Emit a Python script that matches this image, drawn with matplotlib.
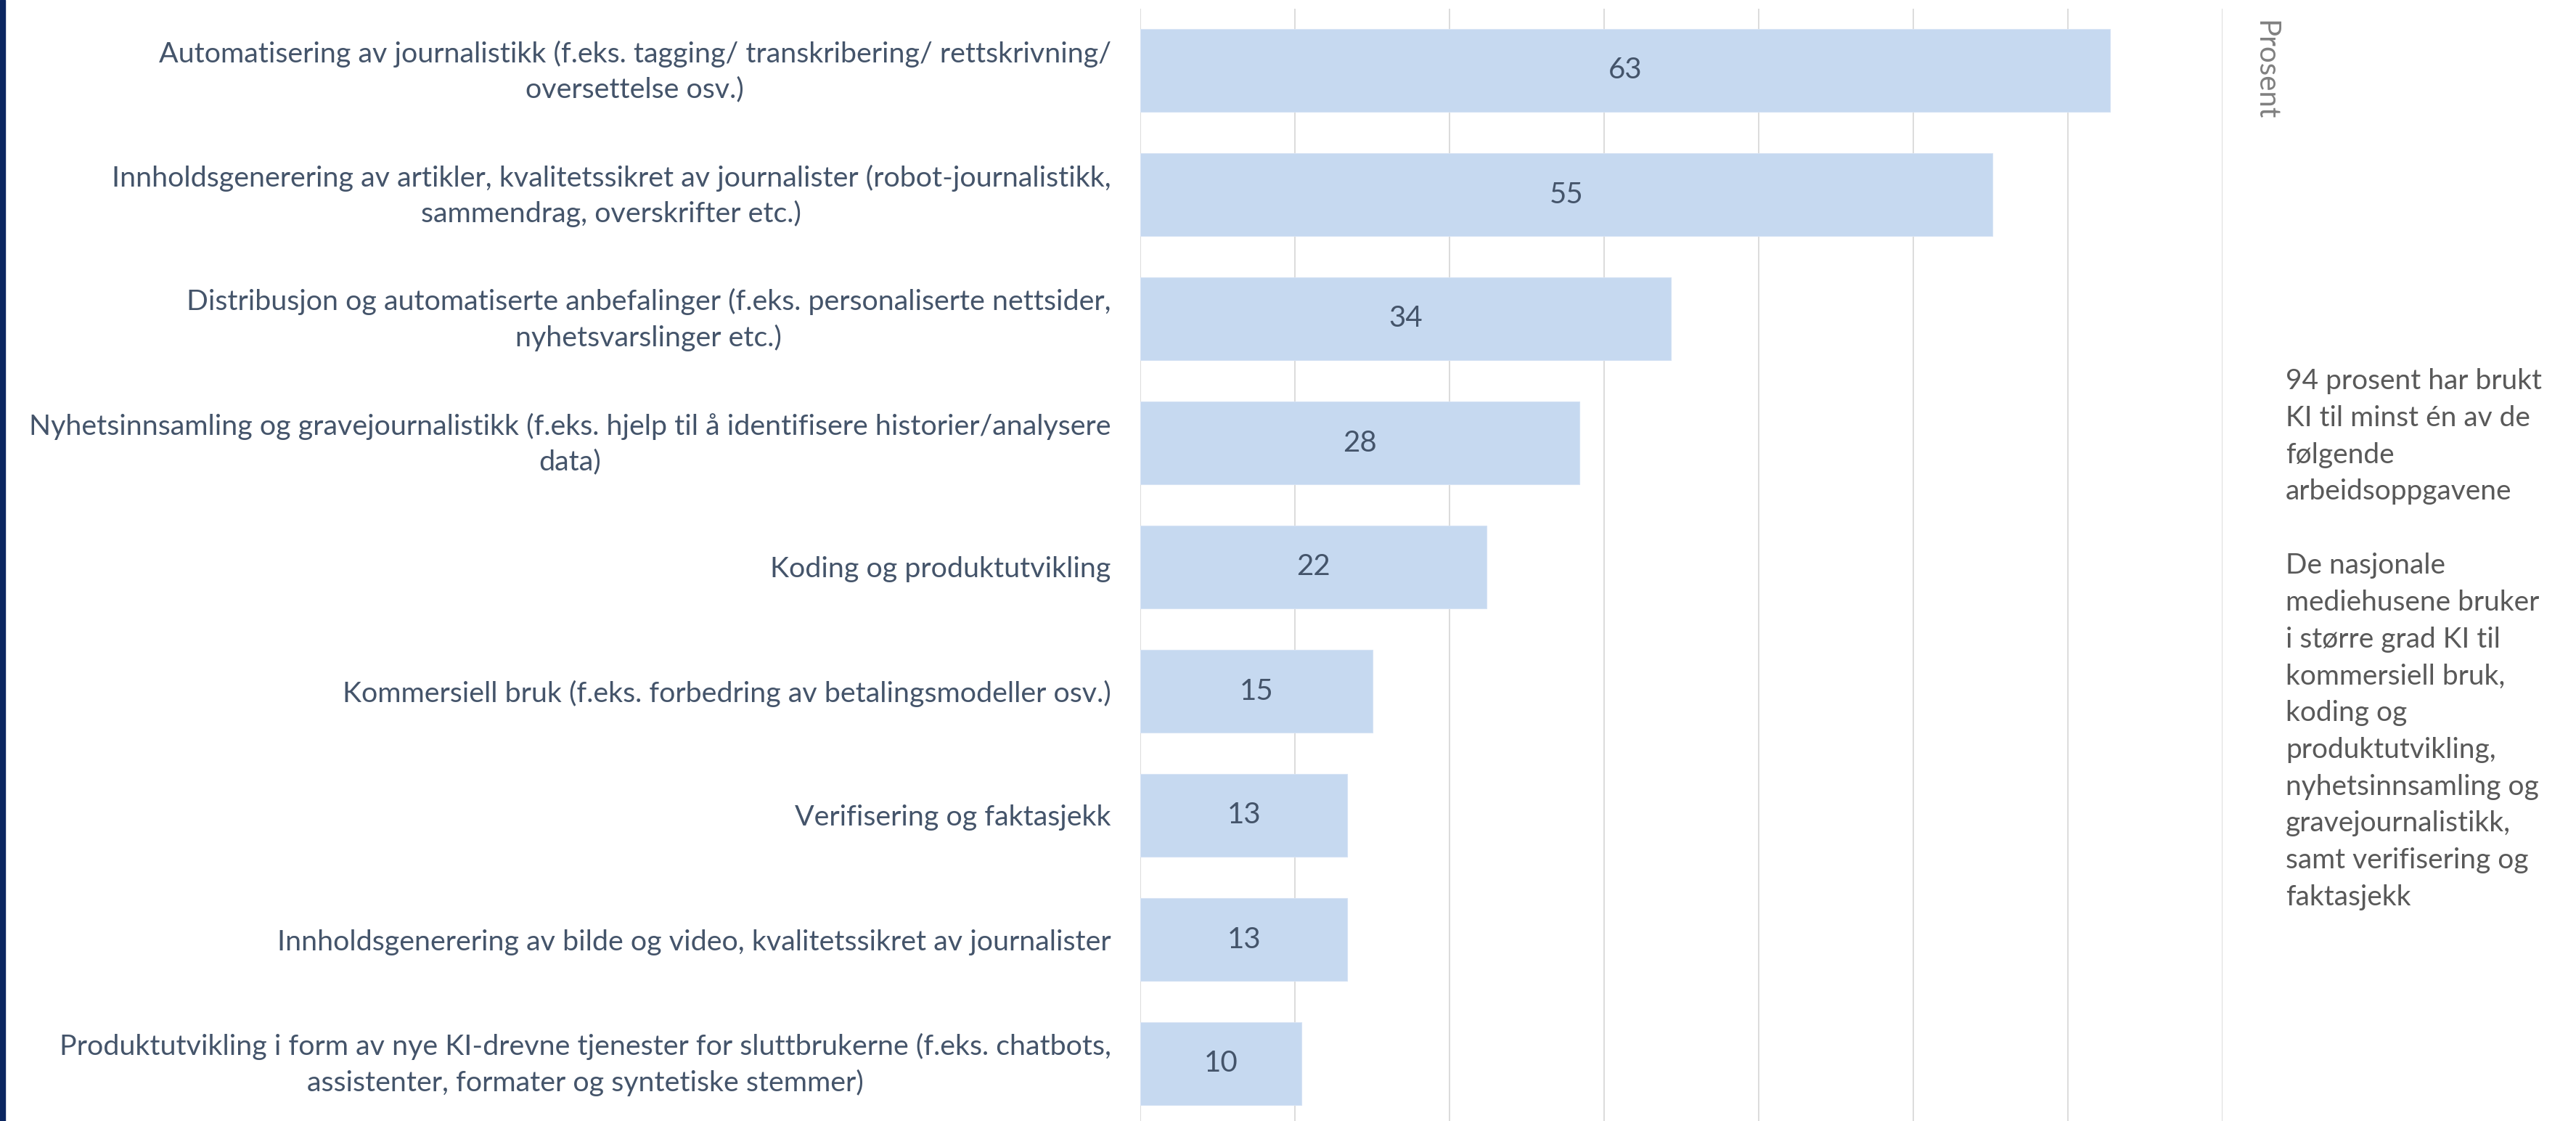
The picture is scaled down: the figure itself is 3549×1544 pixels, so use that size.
import matplotlib
matplotlib.use("Agg")
import matplotlib.pyplot as plt
import matplotlib.transforms as mtransforms
import numpy as np

categories = [
    "Automatisering av journalistikk (f.eks. tagging/ transkribering/ rettskrivning/\noversettelse osv.)",
    "Innholdsgenerering av artikler, kvalitetssikret av journalister (robot-journalistikk,\nsammendrag, overskrifter etc.)",
    "Distribusjon og automatiserte anbefalinger (f.eks. personaliserte nettsider,\nnyhetsvarslinger etc.)",
    "Nyhetsinnsamling og gravejournalistikk (f.eks. hjelp til å identifisere historier/analysere\ndata)",
    "Koding og produktutvikling",
    "Kommersiell bruk (f.eks. forbedring av betalingsmodeller osv.)",
    "Verifisering og faktasjekk",
    "Innholdsgenerering av bilde og video, kvalitetssikret av journalister",
    "Produktutvikling i form av nye KI-drevne tjenester for sluttbrukerne (f.eks. chatbots,\nassistenter, formater og syntetiske stemmer)",
]
values = [62.7, 55.1, 34.3, 28.4, 22.4, 15.0, 13.4, 13.4, 10.4]
xticks = [0, 10, 20, 30, 40, 50, 60, 70]
axis_label = "Prosent"
side_text = ("94 prosent har brukt\nKI til minst én av de\nfølgende\narbeidsoppgavene\n\n"
             "De nasjonale\nmediehusene bruker\ni større grad KI til\nkommersiell bruk,\nkoding og\n"
             "produktutvikling,\nnyhetsinnsamling og\ngravejournalistikk,\nsamt verifisering og\nfaktasjekk")

plt.rcParams['font.family'] = ['Lato', 'DejaVu Sans']

W, H = 3549, 1544
DPI = 100
fig = plt.figure(figsize=(W / DPI, H / DPI), dpi=DPI)
fig.patch.set_facecolor('white')

# axes placement (pixels)
x0, x1 = 1571, 3062
n = len(categories)
pitch = 171.0
y_top = 97 - pitch / 2
y_bot = y_top + pitch * n
ax = fig.add_axes([x0 / W, 1 - y_bot / H, (x1 - x0) / W, (y_bot - y_top) / H])

ypos = np.arange(n)
bar_color = '#C6D9F0'
text_col = '#44546A'
ax.barh(ypos, values, height=0.667, color=bar_color, edgecolor='#D5E2F4', linewidth=0.8, zorder=2)
for y, v in zip(ypos, values):
    ax.text(v / 2, y, f"{v:.0f}", ha='center', va='center', fontsize=29, color=text_col, zorder=3)

ax.set_xlim(0, 70)
ax.set_ylim(n - 0.5, -0.5)
ax.set_xticks(xticks)
ax.set_xticklabels([])
ax.tick_params(axis='x', length=0)
ax.set_yticks(ypos)
ax.set_yticklabels(categories, fontsize=28.4, color=text_col, multialignment='center', linespacing=1.42)
ax.tick_params(axis='y', length=0, pad=29)
shift = mtransforms.ScaledTranslation(0, 8 / DPI, fig.dpi_scale_trans)
for lab in ax.get_yticklabels():
    if "\n" in lab.get_text():
        lab.set_transform(lab.get_transform() + shift)
ax.grid(axis='x', color='#D9D9D9', linewidth=1.3, zorder=0)
ax.set_axisbelow(True)
for s in ax.spines.values():
    s.set_visible(False)

# left navy strip
fig.add_artist(plt.Rectangle((0, 0), 7 / W, 1, transform=fig.transFigure, color='#0B2660', zorder=5))

# vertical axis title
fig.text(3121 / W, 1 - 28 / H, axis_label, rotation=270, ha='center', va='top', fontsize=29, color='#808080')

# side annotation
fig.text(3149 / W, 1 - 507 / H, side_text, ha='left', va='top', fontsize=28, color='#595959', linespacing=1.51)

fig.savefig('out.png', dpi=DPI, facecolor='white')
